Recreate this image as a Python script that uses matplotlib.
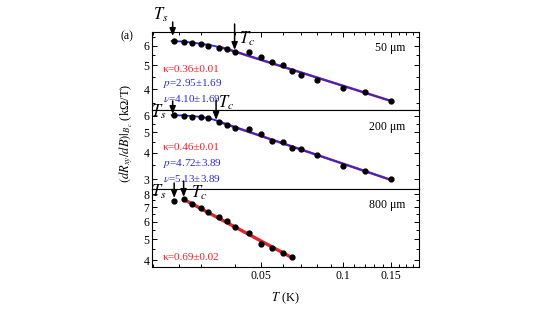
import numpy as np
import matplotlib
matplotlib.use("Agg")
import matplotlib.pyplot as plt
from matplotlib.ticker import FixedLocator, NullFormatter, FuncFormatter

plt.rcParams['font.family'] = ['Liberation Serif', 'DejaVu Serif']
plt.rcParams['mathtext.fontset'] = 'stix'

# ---------------- data ----------------
T1 = [0.024, 0.026, 0.028, 0.030, 0.032, 0.035, 0.0375, 0.040, 0.045, 0.05,
      0.055, 0.06, 0.065, 0.07, 0.08, 0.10, 0.12, 0.15]
y1 = [6.29, 6.23, 6.19, 6.10, 6.02, 5.91, 5.82, 5.66, 5.66, 5.41,
      5.17, 5.01, 4.76, 4.56, 4.34, 4.04, 3.89, 3.59]
red1_T = [0.0348, 0.15]
red1_y = [5.98, 3.58]
blue1_T = [0.0235, 0.026, 0.028, 0.030, 0.0323, 0.0348, 0.0375, 0.040, 0.045, 0.15]
blue1_y = [6.29, 6.25, 6.19, 6.13, 6.06, 5.95, 5.83, 5.71, 5.47, 3.58]

T2 = [0.024, 0.026, 0.028, 0.030, 0.032, 0.035, 0.0375, 0.040, 0.045, 0.05,
      0.055, 0.06, 0.065, 0.07, 0.08, 0.10, 0.12, 0.15]
y2 = [6.03, 5.98, 5.94, 5.94, 5.83, 5.59, 5.44, 5.25, 5.18, 4.90,
      4.54, 4.49, 4.22, 4.16, 3.90, 3.48, 3.30, 3.00]
red2_T = [0.0345, 0.15]
red2_y = [5.65, 2.98]
blue2_T = [0.0235, 0.026, 0.028, 0.030, 0.032, 0.0345, 0.0375, 0.15]
blue2_y = [6.03, 6.01, 5.97, 5.92, 5.84, 5.68, 5.45, 2.98]

T3 = [0.024, 0.026, 0.028, 0.030, 0.032, 0.035, 0.0375, 0.040, 0.045, 0.05,
      0.055, 0.06, 0.065]
y3 = [7.46, 7.59, 7.23, 6.91, 6.63, 6.29, 6.03, 5.70, 5.32, 4.74,
      4.55, 4.32, 4.14]
red3_T = [0.026, 0.066]
red3_y = [7.59, 4.07]

Ts_list = [0.0237, 0.0237, 0.0240]
Tc_list = [0.040, 0.0342, 0.026]

x_major = [0.05, 0.1, 0.15]
x_major_labels = ['0.05', '0.1', '0.15']
x_minor = [0.02, 0.025, 0.03, 0.04, 0.06, 0.07, 0.08, 0.09, 0.11, 0.12, 0.13,
           0.14, 0.16, 0.17, 0.18]

y_major = [[4, 5, 6], [3, 4, 5, 6], [4, 5, 6, 7, 8]]
y_minor = [[3.5, 4.5, 5.5, 6.5], [3.5, 4.5, 5.5], [4.5, 5.5, 6.5, 7.5]]
ylims = [(3.29, 6.84), (2.70, 6.38), (3.73, 8.46)]
sizes = ['50 μm', '200 μm', '800 μm']
fit_texts = [["κ=0.36±0.01", "$p$=2.95±1.69", "$\\nu$=4.10±1.69"],
             ["κ=0.46±0.01", "$p$=4.72±3.89", "$\\nu$=5.13±3.89"],
             ["κ=0.69±0.02"]]

RED = '#e3242b'
BLUE = '#2a2ad6'

# ---------------- figure ----------------
W, H = 556, 313
fig = plt.figure(figsize=(W / 100, H / 100), dpi=100)

def fx(px):
    return px / W

def fy(py):
    return 1 - py / H

left, right = 152, 419
tops = [32, 110, 189]
bots = [110, 189, 267]
axes = []
for i in range(3):
    ax = fig.add_axes([fx(left), fy(bots[i]), fx(right) - fx(left),
                       (bots[i] - tops[i]) / H])
    axes.append(ax)

datasets = [(T1, y1), (T2, y2), (T3, y3)]
reds = [(red1_T, red1_y), (red2_T, red2_y), (red3_T, red3_y)]
blues = [(blue1_T, blue1_y), (blue2_T, blue2_y), None]

for i, ax in enumerate(axes):
    ax.set_xscale('log')
    ax.set_yscale('log')
    ax.set_xlim(0.0199, 0.19)
    ax.set_ylim(*ylims[i])
    rlw = 2.4 if i == 2 else 1.8
    ax.plot(reds[i][0], reds[i][1], color=RED, lw=rlw, zorder=2, solid_capstyle='butt')
    if blues[i] is not None:
        ax.plot(blues[i][0], blues[i][1], color=BLUE, lw=1.3, zorder=3)
    ax.plot(datasets[i][0], datasets[i][1], 'o', color='k', ms=3.5, zorder=4)

    ax.yaxis.set_major_locator(FixedLocator(y_major[i]))
    ax.yaxis.set_minor_locator(FixedLocator(y_minor[i]))
    ax.yaxis.set_major_formatter(FuncFormatter(lambda v, p: '%d' % round(v)))
    ax.yaxis.set_minor_formatter(NullFormatter())
    ax.xaxis.set_major_locator(FixedLocator(x_major))
    ax.xaxis.set_minor_locator(FixedLocator(x_minor))
    ax.xaxis.set_minor_formatter(NullFormatter())
    if i == 2:
        ax.set_xticklabels(x_major_labels)
    else:
        ax.xaxis.set_major_formatter(NullFormatter())
    ax.tick_params(which='both', direction='in', labelsize=8.5, pad=2,
                   left=True, right=True, top=(i == 0), bottom=(i == 2),
                   width=0.7)
    ax.tick_params(which='major', length=3.5)
    ax.tick_params(which='minor', length=2)
    for s in ax.spines.values():
        s.set_linewidth(0.8)

    # size label
    ax.text(fx(405), fy([48, 127, 205][i]), sizes[i], transform=fig.transFigure,
            ha='right', va='center', fontsize=8.5)

axes[2].set_xlabel('$T$ (K)', fontsize=9, labelpad=6)

# fit parameter texts
fit_y = [[69, 84, 99], [147, 163, 179], [258]]
for i in range(3):
    for j, t in enumerate(fit_texts[i]):
        col = RED if j == 0 else BLUE
        fig.text(fx(163), fy(fit_y[i][j]), t, color=col, fontsize=8,
                 ha='left', va='center', zorder=10)

# arrows Ts / Tc
ts_arrow = [(22, 36), (101, 114), (183, 198)]
tc_arrow = [(24, 50), (100, 120), (181, 197)]
ts_text = [(153, 15), (151, 112), (151, 192)]
tc_text = [(239, 39), (218, 103), (191, 193)]
for i, ax in enumerate(axes):
    for Tv, (y0, y1_) in ((Ts_list[i], ts_arrow[i]), (Tc_list[i], tc_arrow[i])):
        ax.annotate('', xy=(Tv, fy(y1_)), xycoords=('data', 'figure fraction'),
                    xytext=(Tv, fy(y0)), textcoords=('data', 'figure fraction'),
                    arrowprops=dict(arrowstyle='-|>,head_length=0.45,head_width=0.18',
                                    lw=1.1, color='k', shrinkA=0, shrinkB=0),
                    annotation_clip=False, zorder=6)
    fig.text(fx(ts_text[i][0]), fy(ts_text[i][1]), '$T_s$', fontsize=12,
             ha='left', va='center')
    fig.text(fx(tc_text[i][0]), fy(tc_text[i][1]), '$T_c$', fontsize=12,
             ha='left', va='center')

fig.text(fx(127), fy(36), '(a)', fontsize=8.5, ha='center', va='center')
fig.text(fx(126), fy(133), '$(dR_{xy}/dB)|_{B_c}$ (kΩ/T)', fontsize=9,
         rotation=90, ha='center', va='center')

fig.savefig('out.png', dpi=100)
